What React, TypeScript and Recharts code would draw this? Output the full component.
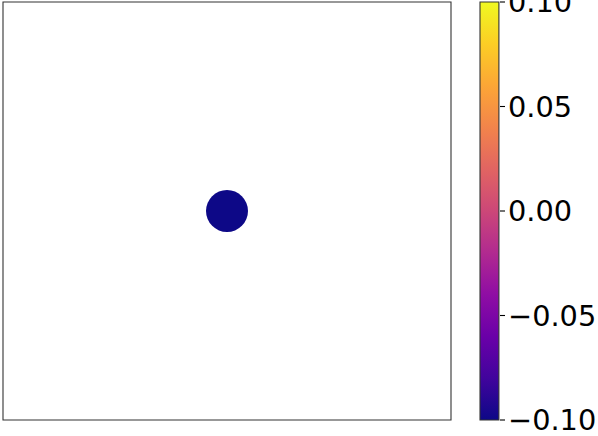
import {
  ScatterChart,
  Scatter,
  XAxis,
  YAxis,
  ReferenceArea,
  BarChart,
  Bar,
} from "recharts";

// single point in the scatter panel
const xs = [0];
const ys = [0];
const cs = [-0.1];

// colorbar range and ticks
const cbMin = -0.1;
const cbMax = 0.1;
const cbTicks = [-0.1, -0.05, 0, 0.05, 0.1];

// plasma colormap stops, bottom (0) to top (1)
const plasma = [
  "#0d0887",
  "#41049d",
  "#6a00a8",
  "#8f0da4",
  "#b12a90",
  "#cc4778",
  "#e16462",
  "#f2844b",
  "#fca636",
  "#fcce25",
  "#f0f921",
];

const points = xs.map((x, i) => ({ x, y: ys[i], c: cs[i] }));
const cbData = [{ name: "cb", range: [cbMin, cbMax] }];

const FONT = "DejaVu Sans, sans-serif";

const fmt = (v: number) => {
  const s = Math.abs(v).toFixed(2);
  return v < 0 ? `\u2212${s}` : s;
};

// map a value onto the plasma stops
const colorOf = (v: number) => {
  const t = Math.min(1, Math.max(0, (v - cbMin) / (cbMax - cbMin)));
  return plasma[Math.round(t * (plasma.length - 1))];
};

const Dot = (props: any) => {
  const { cx, cy, payload } = props;
  return <circle cx={cx} cy={cy} r={21} fill={colorOf(payload.c)} />;
};

export default function App() {
  return (
    <div
      style={{
        position: "absolute",
        left: 0,
        top: 0,
        width: 598,
        height: 436,
        background: "#fff",
        overflow: "hidden",
      }}
    >
      <div style={{ position: "absolute", left: 0, top: 0 }}>
        <ScatterChart
          width={460}
          height={436}
          margin={{ top: 2, left: 3, right: 9, bottom: 16 }}
        >
          <XAxis type="number" dataKey="x" domain={[-1, 1]} hide />
          <YAxis type="number" dataKey="y" domain={[-1, 1]} hide />
          <ReferenceArea
            x1={-1}
            x2={1}
            y1={-1}
            y2={1}
            fill="none"
            stroke="#333"
            strokeWidth={1.1}
            fillOpacity={0}
          />
          <Scatter data={points} shape={Dot} isAnimationActive={false} />
        </ScatterChart>
      </div>
      <div style={{ position: "absolute", left: 0, top: 0 }}>
        <BarChart
          width={598}
          height={436}
          data={cbData}
          margin={{ top: 2, left: 479, right: 0, bottom: 16 }}
          barCategoryGap={0}
        >
          <defs>
            <linearGradient id="plasma" x1="0" y1="1" x2="0" y2="0">
              {plasma.map((c, i) => (
                <stop key={i} offset={`${i * 10}%`} stopColor={c} />
              ))}
            </linearGradient>
          </defs>
          <XAxis dataKey="name" hide />
          <YAxis
            orientation="right"
            width={98}
            type="number"
            domain={[cbMin, cbMax]}
            ticks={cbTicks}
            tickFormatter={fmt}
            axisLine={false}
            tickLine={{ stroke: "#000", strokeWidth: 1.1 }}
            tickSize={5}
            tickMargin={3}
            interval={0}
            tick={{ fill: "#000", fontSize: 28.8, fontFamily: FONT }}
          />
          <Bar
            dataKey="range"
            barSize={21}
            fill="url(#plasma)"
            stroke="#333"
            strokeWidth={1.1}
            isAnimationActive={false}
          />
        </BarChart>
      </div>
    </div>
  );
}
